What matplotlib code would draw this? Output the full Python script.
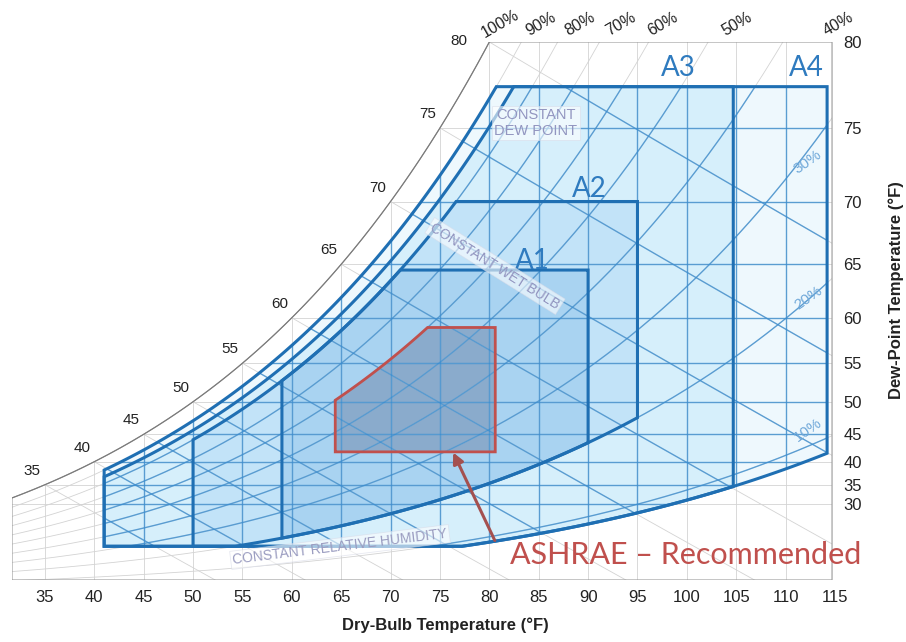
import numpy as np
import matplotlib
matplotlib.use('Agg')
import matplotlib.pyplot as plt
from matplotlib.patches import Polygon

P_ATM = 14.696  # psia

# chart data
db_ticks = [35, 40, 45, 50, 55, 60, 65, 70, 75, 80, 85, 90, 95, 100, 105, 110, 115]
dp_ticks = [30, 35, 40, 45, 50, 55, 60, 65, 70, 75, 80]
sat_labels = [35, 40, 45, 50, 55, 60, 65, 70, 75, 80]
rh_lines = [10, 20, 30, 40, 50, 60, 70, 80, 90]
wb_lines = [35, 40, 45, 50, 55, 60, 65, 70, 75, 80]

# ASHRAE classes
classes = ['A1', 'A2', 'A3', 'A4']
db_min = [59, 50, 41, 41]
db_max = [90, 95, 104.7, 114.2]
rh_min = [20, 20, 9, 9]
rh_max = [80, 80, 85, 90]
dp_min = [14, 14, 14, 14]
dp_max = [64.5, 70, 77.5, 77.5]
fills = ['#a9d3f1', '#c2e3f8', '#d6effb', '#eef8fd']

rec_db = [64.4, 80.6]
rec_dp = [41.9, 59]
rec_rh = 60

db_left, db_right = 31.67, 114.7


def pws(t):
    tc = (np.asarray(t, float) - 32) / 1.8
    return 0.61094 * np.exp(17.625 * tc / (tc + 243.04)) * 0.145038


def t_from_pws(p):
    a = np.log(p / 0.145038 / 0.61094)
    return 243.04 * a / (17.625 - a) * 1.8 + 32


def w_rh(t, rh):
    pw = rh / 100.0 * pws(t)
    return 0.622 * pw / (P_ATM - pw)


def w_dp(dp):
    return w_rh(dp, 100)


def t_at(w, rh):
    pw = w * P_ATM / (0.622 + w)
    return t_from_pws(pw / (rh / 100.0))


def w_wb(t, twb):
    ws = w_dp(twb)
    return ((1093 - 0.556 * twb) * ws - 0.240 * (t - twb)) / (1093 + 0.444 * t - twb)


w_bot, w_top = 0.0004, w_dp(80)

fig = plt.figure(figsize=(9.06, 6.42), dpi=100)
ax = fig.add_axes([12 / 906, 62 / 642, 823 / 906, 538 / 642])
ax.set_xlim(db_left, db_right)
ax.set_ylim(w_bot, w_top)
for s in ax.spines.values():
    s.set_visible(False)


def envelope(a, b, lo_rh, hi_rh, lo_dp, hi_dp):
    t = np.linspace(a, b, 200)
    t = np.union1d(t, [t_at(w_dp(hi_dp), hi_rh), t_at(w_dp(lo_dp), lo_rh)])
    t = t[(t >= a) & (t <= b)]
    lo = np.maximum(w_rh(t, lo_rh), w_dp(lo_dp))
    hi = np.minimum(w_rh(t, hi_rh), w_dp(hi_dp))
    return np.vstack([np.column_stack([t, lo]), np.column_stack([t[::-1], hi[::-1]])])


# chart frame (saturation curve on top-left)
ts = np.linspace(db_left, t_at(w_top, 100), 200)
frame_pts = np.vstack([[[db_left, w_bot], [db_right, w_bot], [db_right, w_top]],
                       np.column_stack([ts[::-1], w_rh(ts[::-1], 100)])])
frame = Polygon(frame_pts, closed=True, facecolor='none', edgecolor='#9a9a9a', lw=0.8, zorder=4)
ax.add_patch(frame)

# class envelopes, biggest first
env = {}
for i in [3, 2, 1, 0]:
    pts = envelope(db_min[i], db_max[i], rh_min[i], rh_max[i], dp_min[i], dp_max[i])
    env[classes[i]] = pts
    ax.add_patch(Polygon(pts, closed=True, facecolor=fills[i], edgecolor='none', zorder=1))

t = np.linspace(rec_db[0], rec_db[1], 200)
t = np.union1d(t, [t_at(w_dp(rec_dp[1]), rec_rh)])
lo = np.full_like(t, w_dp(rec_dp[0]))
hi = np.minimum(w_rh(t, rec_rh), w_dp(rec_dp[1]))
rec_pts = np.vstack([np.column_stack([t, lo]), np.column_stack([t[::-1], hi[::-1]])])
ax.add_patch(Polygon(rec_pts, closed=True, facecolor='#8aabcc', edgecolor='none', zorder=1.5))

clip_blue = Polygon(env['A4'], closed=True, facecolor='none', edgecolor='none')
ax.add_patch(clip_blue)


def grid_line(x, y):
    l1, = ax.plot(x, y, color='#d3d3d3', lw=0.6, zorder=2)
    l1.set_clip_path(frame)
    l2, = ax.plot(x, y, color='#3b8ed0', lw=1.0, alpha=0.8, zorder=2.2)
    l2.set_clip_path(clip_blue)


for tdb in range(35, 115, 5):
    grid_line([tdb, tdb], [w_bot, min(w_rh(tdb, 100), w_top)])
for dp in dp_ticks[:-1]:
    grid_line([dp, db_right], [w_dp(dp), w_dp(dp)])
tt = np.linspace(db_left, db_right, 300)
for rh in rh_lines:
    grid_line(tt, w_rh(tt, rh))
for twb in wb_lines:
    tw = np.linspace(twb, db_right, 100)
    grid_line(tw, w_wb(tw, twb))

ax.plot(ts, w_rh(ts, 100), color='#7a7a7a', lw=0.8, zorder=4)

# envelope outlines
for c in ['A4', 'A3', 'A2', 'A1']:
    pts = env[c]
    ax.add_patch(Polygon(pts, closed=True, facecolor='none', edgecolor='#1f6fb3',
                         lw=2.2, joinstyle='miter', zorder=3))
ax.add_patch(Polygon(rec_pts, closed=True, facecolor='none', edgecolor='#c0504d',
                     lw=2.0, zorder=3.5))

# saturation temperature labels
for v in sat_labels:
    off = (-22, 1) if v == 80 else (-9, 10)
    ax.annotate(str(v), (v, w_dp(v)), xytext=off, textcoords='offset points',
                ha='center', va='center', fontsize=11, color='#222222', family='Liberation Sans')

# axes ticks
ax.set_xticks(db_ticks)
ax.set_xticklabels([str(v) for v in db_ticks], fontsize=12, color='#222222', family='Liberation Sans')
ax.tick_params(axis='x', length=0, pad=7)
ax.yaxis.tick_right()
ax.set_yticks([w_dp(v) for v in dp_ticks])
ax.set_yticklabels([str(v) for v in dp_ticks], fontsize=12, color='#222222', family='Liberation Sans')
ax.tick_params(axis='y', length=0, pad=6)


def fx(x):
    return x / 906


def fy(y):
    return 1 - y / 642


fig.text(fx(445), fy(625), 'Dry-Bulb Temperature (°F)', ha='center', va='center',
         fontsize=12, fontweight='bold', color='#222222', family='Liberation Sans')
fig.text(fx(896), fy(290), 'Dew-Point Temperature (°F)', ha='center', va='center', rotation=90,
         fontsize=12, fontweight='bold', color='#222222', family='Liberation Sans')

# RH labels
top_rh = [('100%', 500), ('90%', 541), ('80%', 580), ('70%', 621), ('60%', 663), ('50%', 737), ('40%', 838)]
for s, x in top_rh:
    fig.text(fx(x), fy(24), s, ha='center', va='center', rotation=30, fontsize=11.5,
             color='#222222', family='Liberation Sans')
for s, y in [('30%', 162), ('20%', 298), ('10%', 430)]:
    fig.text(fx(808), fy(y), s, ha='center', va='center', rotation=35, fontsize=11,
             color='#6fa8d9', family='Liberation Sans')

# class labels
for s, x, y in [('A3', 678, 68), ('A4', 806, 68), ('A2', 589, 189), ('A1', 532, 261)]:
    fig.text(fx(x), fy(y), s, ha='center', va='center', fontsize=20, color='#2f7bbf', family='Lato')

box = dict(boxstyle='square,pad=0.15', facecolor='white', edgecolor='#d8dbe8', alpha=0.6, lw=0.6)
fig.text(fx(536), fy(123), 'CONSTANT\nDEW POINT', ha='center', va='center', fontsize=10.5,
         color='#9295c0', family='Liberation Sans', linespacing=1.2, bbox=box)
fig.text(fx(495), fy(266), 'CONSTANT WET BULB', ha='center', va='center', rotation=-32, fontsize=10,
         color='#9295c0', family='Liberation Sans', bbox=box)
fig.text(fx(340), fy(547), 'CONSTANT RELATIVE HUMIDITY', ha='center', va='center', rotation=7, fontsize=10,
         color='#9a9cc0', family='Liberation Sans', bbox=box)

fig.text(fx(686), fy(555), 'ASHRAE \u2013 Recommended', ha='center', va='center', fontsize=22,
         color='#c0504d', family='Lato')
ax.annotate('', xy=(fx(452), fy(450)), xycoords='figure fraction',
            xytext=(fx(496), fy(543)), textcoords='figure fraction',
            arrowprops=dict(arrowstyle='-|>', color='#a4504f', lw=2.2, mutation_scale=16), zorder=5)

fig.savefig('out.png', dpi=100)
